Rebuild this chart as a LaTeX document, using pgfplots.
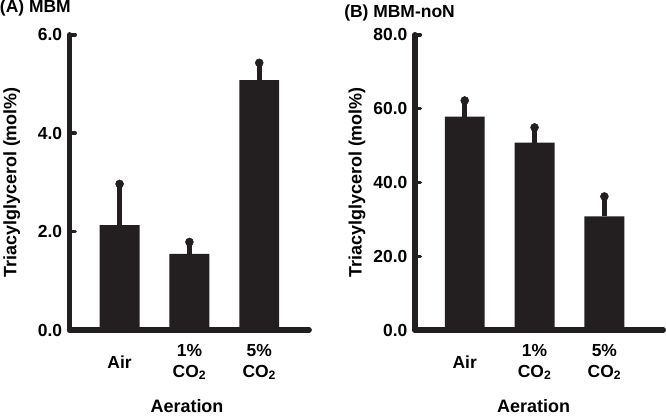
\documentclass[border=0pt]{standalone}
\usepackage{pgfplots}
\pgfplotsset{compat=1.18}
\usepackage{fontspec}
\setmainfont{Liberation Sans}
\definecolor{barc}{RGB}{35,31,32}
\begin{document}
\begin{tikzpicture}
\pgfplotsset{
 common/.style={
  scale only axis, height=296pt, ymin=0, enlargelimits=false, clip=false,
  anchor=south west,
  axis x line=bottom, axis y line=left,
  axis line style={-, line width=5.5pt, line cap=round, color=barc},
  xtick={0,1,2},
  xticklabels={Air, 1\%\\CO\textsubscript{2}, 5\%\\CO\textsubscript{2}},
  x tick style={draw=none},
  y tick style={line width=3.5pt, color=barc, line cap=round},
  tick align=inside, major tick length=5.5pt,
  font=\fontsize{17}{20}\selectfont\bfseries,
  ticklabel style={font=\fontsize{17.5}{21}\selectfont\bfseries},
  xticklabel style={align=center, anchor=center, yshift=-32pt},
  yticklabel style={xshift=-4pt},
  /pgf/number format/.cd, fixed, fixed zerofill, precision=1, assume math mode=true,
  /pgfplots/.cd,
  ylabel={Triacylglycerol (mol\%)},
  xlabel={Aeration},
  label style={font=\fontsize{18}{21}\selectfont\bfseries, inner sep=1pt},
  title style={font=\fontsize{17.5}{21}\selectfont\bfseries, anchor=west, inner sep=0pt},
 },
 barstyle/.style={ybar, bar width=40pt, fill=barc, draw=none,
  error bars/.cd, y dir=plus, y explicit,
  error bar style={line width=5pt, color=barc},
  error mark=*, error mark options={barc, fill=barc, mark size=4pt, line width=0.5pt}},
}
\begin{axis}[common, at={(70pt,89pt)}, width=240pt, xmin=-0.714, xmax=2.714, ymax=6, ytick={0,2,4,6},
  ylabel style={at={(axis description cs:-0.242,0.5)}, anchor=center},
  xlabel style={at={(axis description cs:0.49,-0.257)}, anchor=center},
  title={(A) MBM}, title style={at={(axis description cs:-0.292,1.07)}}]
\addplot[barstyle] coordinates {(0,2.13) +- (0,0.84) (1,1.55) +- (0,0.24) (2,5.08) +- (0,0.35)};
\end{axis}
\begin{axis}[common, at={(416pt,89pt)}, width=249pt, xmin=-0.714, xmax=2.843, ymax=80, ytick={0,20,40,60,80},
  ylabel style={at={(axis description cs:-0.233,0.5)}, anchor=center},
  xlabel style={at={(axis description cs:0.478,-0.257)}, anchor=center},
  title={(B) MBM-noN}, title style={at={(axis description cs:-0.285,1.052)}}]
\addplot[barstyle] coordinates {(0,57.8) +- (0,4.4) (1,50.8) +- (0,4.1) (2,30.8) +- (0,5.4)};
\end{axis}
\path ([yshift=-5pt]current bounding box.south west);
\end{tikzpicture}
\end{document}
